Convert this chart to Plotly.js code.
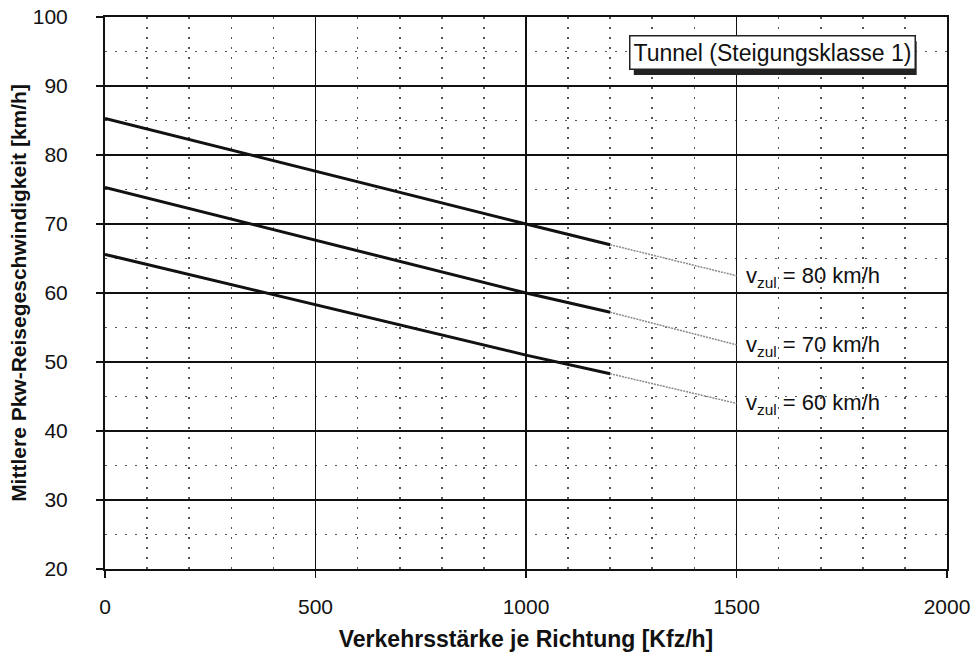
<!DOCTYPE html>
<html>
<head>
<meta charset="utf-8">
<script src="https://cdn.plot.ly/plotly-3.0.1.min.js"></script>
<style>
  html, body { margin: 0; padding: 0; background: #fff; }
  #chart { width: 974px; height: 652px; }
</style>
</head>
<body>
<div id="chart"></div>
<script>
// Traffic volume per direction [Kfz/h] where the curves are defined
const volumeSolid = [0, 500, 1000, 1200];
const volumeExtension = [1200, 1500];

// Mean car travel speed [km/h] per speed limit
const speed80 = [85.3, 77.6, 70.0, 67.0];
const speed70 = [75.3, 67.7, 60.0, 57.2];
const speed60 = [65.6, 58.3, 51.0, 48.3];

// Extrapolated part beyond 1200 Kfz/h
const speed80Ext = [67.0, 62.5];
const speed70Ext = [57.2, 52.5];
const speed60Ext = [48.3, 44.0];

const limitLabels = ['v<sub>zul</sub> = 80 km/h', 'v<sub>zul</sub> = 70 km/h', 'v<sub>zul</sub> = 60 km/h'];

const xTicks = [0, 500, 1000, 1500, 2000];
const yTicks = [20, 30, 40, 50, 60, 70, 80, 90, 100];

const FONT = 'Arial, "Liberation Sans", Helvetica, sans-serif';

const solidSeries = [speed80, speed70, speed60];
const extSeries = [speed80Ext, speed70Ext, speed60Ext];

const traces = [];
solidSeries.forEach(s => {
  traces.push({
    x: volumeSolid, y: s, mode: 'lines', type: 'scatter',
    line: { color: '#111', width: 3 }, hoverinfo: 'skip', showlegend: false
  });
});
extSeries.forEach(s => {
  traces.push({
    x: volumeExtension, y: s, mode: 'lines', type: 'scatter',
    line: { color: '#8a8a8a', width: 1.5, dash: '2px,1px' }, hoverinfo: 'skip', showlegend: false
  });
});

const annotations = extSeries.map((s, i) => ({
  x: volumeExtension[volumeExtension.length - 1], y: s[s.length - 1],
  xref: 'x', yref: 'y', text: limitLabels[i], showarrow: false,
  xanchor: 'left', yanchor: 'middle', xshift: 7, yshift: -1,
  font: { family: FONT, size: 22, color: '#111' }
}));

// Framed title box
annotations.push({
  x: 1586, y: 94.8, xref: 'x', yref: 'y', text: 'Tunnel (Steigungsklasse 1)', showarrow: false,
  xanchor: 'center', yanchor: 'middle',
  font: { family: FONT, size: 23, color: '#111' },
  bgcolor: '#fff', bordercolor: '#222', borderwidth: 1.5, borderpad: 3
});

// Drop shadow behind the title box (annotations render above shapes)
const shapes = [{
  type: 'rect', xref: 'paper', yref: 'paper', layer: 'above',
  x0: 0.628, x1: 0.964, y0: 0.895, y1: 0.956,
  fillcolor: '#222', line: { width: 0 }
}];

const layout = {
  width: 974, height: 652,
  margin: { l: 105, r: 27, t: 17, b: 83 },
  paper_bgcolor: '#fff', plot_bgcolor: '#fff',
  showlegend: false,
  font: { family: FONT, color: '#111' },
  xaxis: {
    range: [0, 2000],
    tickvals: xTicks, ticktext: xTicks.map(String),
    ticks: 'outside', ticklen: 7, tickwidth: 1.5, tickcolor: '#111',
    ticklabelstandoff: 11,
    tickfont: { family: FONT, size: 21, color: '#111' },
    showgrid: true, gridcolor: '#111', gridwidth: 1.6,
    minor: { dtick: 100, showgrid: true, gridcolor: '#555', gridwidth: 1.6, griddash: '2px,8px', ticks: '' },
    showline: true, linecolor: '#111', linewidth: 2, mirror: true,
    zeroline: false,
    title: { text: '<b>Verkehrsstärke je Richtung [Kfz/h]</b>', font: { family: FONT, size: 23, color: '#111' }, standoff: 16 }
  },
  yaxis: {
    range: [20, 100],
    tickvals: yTicks, ticktext: yTicks.map(String),
    ticks: 'outside', ticklen: 7, tickwidth: 1.5, tickcolor: '#111',
    ticklabelstandoff: 24,
    tickfont: { family: FONT, size: 21, color: '#111' },
    showgrid: true, gridcolor: '#111', gridwidth: 1.6,
    minor: { dtick: 5, showgrid: true, gridcolor: '#555', gridwidth: 1.6, griddash: '2px,8px', ticks: '' },
    showline: true, linecolor: '#111', linewidth: 2, mirror: true,
    zeroline: false,
    title: { text: '<b>Mittlere Pkw-Reisegeschwindigkeit [km/h]</b>', font: { family: FONT, size: 21, color: '#111' }, standoff: 0 }
  },
  shapes: shapes,
  annotations: annotations
};

Plotly.newPlot('chart', traces, layout, { staticPlot: true, displayModeBar: false });
</script>
</body>
</html>
